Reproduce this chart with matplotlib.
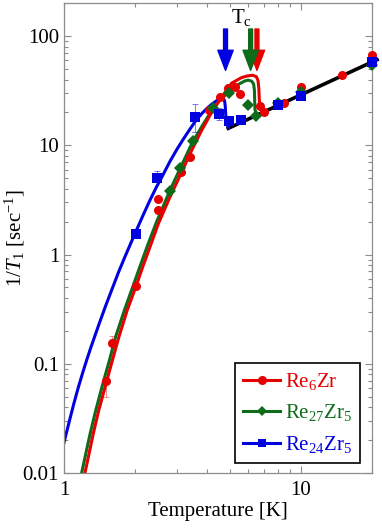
import matplotlib
matplotlib.use("Agg")
from matplotlib import pyplot as plt
from matplotlib.lines import Line2D
from matplotlib.ticker import NullFormatter

plt.rcParams['font.family'] = ['Liberation Serif', 'DejaVu Serif']
plt.rcParams['mathtext.fontset'] = 'custom'
plt.rcParams['mathtext.rm'] = 'Liberation Serif'
plt.rcParams['mathtext.it'] = 'Liberation Serif:italic'

red_T = [1.50, 1.60, 2.01, 2.50, 2.50, 3.12, 3.40, 4.09, 4.57, 4.94, 5.30, 5.56, 6.71, 6.98, 8.5, 10.0, 14.9, 20.0]
red_R = [0.070, 0.154, 0.51, 2.55, 3.2, 5.66, 7.85, 21.0, 27.5, 33.5, 34.0, 29.3, 22.8, 20.0, 24.2, 34.0, 43.7, 67.0]
red_err_lo = [0.020, 0.0, 0, 0, 0, 0, 0, 0, 0, 0, 0, 0, 0, 0, 0, 0, 0, 0]
red_err_hi = [0.0, 0.026, 0, 0, 0, 0, 0, 0, 0, 0, 0, 0, 0, 0, 0, 0, 0, 0]

green_T = [2.80, 3.09, 3.49, 4.27, 4.98, 5.99, 6.46, 8.0, 10.0, 20.0]
green_R = [3.84, 6.24, 10.9, 21.8, 30.3, 23.2, 18.7, 24.5, 31.0, 54.0]

blue_T = [2.01, 2.46, 3.57, 4.50, 4.97, 5.60, 8.0, 10.0, 20.0]
blue_R = [1.55, 5.0, 18.1, 19.5, 16.7, 17.2, 23.4, 28.0, 57.5]
blue_err_lo = [0.1, 0.3, 4.9, 2.5, 0, 0, 0, 0, 0]
blue_err_hi = [0.1, 0.8, 5.6, 2.5, 0, 0, 0, 0, 0]

# fitted curves
red_fit_T = [1.226, 1.28, 1.33, 1.4, 1.5, 1.6, 1.7, 1.85, 2.02, 2.15, 2.31, 2.5, 2.8, 3.12, 3.4,
             3.8, 4.2, 4.6, 5.1, 5.6, 5.9, 6.26, 6.5, 6.6, 6.65, 6.68, 6.71, 6.8, 6.9]
red_fit_R = [0.010, 0.0155, 0.023, 0.037, 0.064, 0.107, 0.172, 0.31, 0.52, 0.77, 1.18, 1.9, 3.35,
             5.5, 8.3, 13.5, 20.0, 27.0, 37.0, 41.5, 43.0, 43.8, 42.4, 39.0, 33.0, 26.5, 23.0,
             21.0, 20.2]

green_fit_T = [1.187, 1.24, 1.29, 1.36, 1.46, 1.56, 1.65, 1.8, 1.96, 2.09, 2.25, 2.45, 2.8, 3.09,
               3.49, 3.9, 4.27, 4.6, 4.98, 5.5, 5.8, 6.0, 6.2, 6.32, 6.37, 6.39, 6.41, 6.5]
green_fit_R = [0.010, 0.0155, 0.023, 0.037, 0.066, 0.11, 0.175, 0.31, 0.52, 0.77, 1.2, 1.95, 3.85,
               6.1, 10.7, 16.0, 21.8, 26.5, 31.0, 36.5, 38.8, 39.5, 38.7, 36.5, 32.0, 25.0, 21.0,
               19.2]

blue_fit_T = [1.0, 1.05, 1.1, 1.15, 1.2, 1.25, 1.3, 1.4, 1.5, 1.6, 1.7, 1.8, 1.9, 2.0, 2.15, 2.3,
              2.45, 2.6, 2.8, 3.0, 3.2, 3.4, 3.6, 3.8, 4.0, 4.2, 4.4, 4.55, 4.65, 4.72, 4.77,
              4.8, 4.82, 4.86, 4.91, 4.95]
blue_fit_R = [0.019, 0.029, 0.043, 0.061, 0.083, 0.11, 0.142, 0.225, 0.34, 0.49, 0.69, 0.93,
              1.22, 1.58, 2.25, 3.1, 4.1, 5.2, 7.1, 9.2, 11.5, 14.0, 16.8, 19.3, 21.6, 23.7,
              25.5, 26.5, 27.1, 26.8, 25.3, 22.5, 19.0, 16.3, 15.0, 14.5]

# Korringa line (normal state)
korr_T = [4.94, 21.0]
korr_R = [14.3, 60.8]

tc_values = [4.81, 6.53, 6.14]   # blue, red, green

c_red = '#e60000'
c_green = '#0d6b1a'
c_blue = '#0000e0'

fig = plt.figure(figsize=(3.82, 5.30), dpi=100)
ax = fig.add_axes([0.1675, 0.1075, 0.8065, 0.8865])

ax.plot(korr_T, korr_R, color='black', lw=2.6, clip_on=False, zorder=2)
ax.plot(blue_fit_T, blue_fit_R, color=c_blue, lw=2.2, zorder=2)
ax.plot(green_fit_T, green_fit_R, color=c_green, lw=2.2, zorder=2)
ax.plot(red_fit_T, red_fit_R, color=c_red, lw=2.2, zorder=2)

ax.errorbar(red_T, red_R, yerr=[red_err_lo, red_err_hi], fmt='none', ecolor=c_red,
            elinewidth=0.6, capsize=2, capthick=0.6, alpha=0.5, zorder=3)
ax.errorbar(blue_T, blue_R, yerr=[blue_err_lo, blue_err_hi], fmt='none', ecolor=c_blue,
            elinewidth=0.6, capsize=2, capthick=0.6, alpha=0.6, zorder=3)

ax.plot(red_T, red_R, 'o', color=c_red, ms=6.5, mew=0, clip_on=False, zorder=4)
ax.plot(green_T, green_R, 'D', color=c_green, ms=6, mew=0, clip_on=False, zorder=5)
ax.plot(blue_T, blue_R, 's', color=c_blue, ms=6.5, mew=0, clip_on=False, zorder=6)

# Tc arrows
for tc, col in zip(tc_values, [c_blue, c_red, c_green]):
    ax.annotate('', xy=(tc, 48.5), xytext=(tc, 116),
                arrowprops=dict(facecolor=col, edgecolor=col, width=2.8,
                                headwidth=11, headlength=14.5, shrink=0))
ax.text(0.541, 0.958, 'T$_{\\rm c}$', transform=ax.transAxes, fontsize=15)

ax.set_xscale('log')
ax.set_yscale('log')
ax.set_xlim(1, 20)
ax.set_ylim(0.01, 200)
ax.set_xticks([1, 10], labels=['1', '10'])
ax.xaxis.set_minor_formatter(NullFormatter())
ax.set_yticks([0.01, 0.1, 1, 10, 100], labels=['0.01', '0.1', '1', '10', '100'])
ax.yaxis.set_minor_formatter(NullFormatter())

ax.tick_params(which='both', direction='in', top=True, right=True,
               color='#8c8c8c', labelsize=15)
ax.tick_params(which='major', length=5, width=0.8)
ax.tick_params(which='minor', length=3, width=0.8)
ax.tick_params(axis='x', pad=6)
for sp in ax.spines.values():
    sp.set_color('#8c8c8c')
    sp.set_linewidth(0.9)

ax.set_xlabel('Temperature [K]', fontsize=15, labelpad=1)
ax.set_ylabel('1/$T_1$ [sec$^{-1}$]', fontsize=15)
ax.yaxis.set_label_coords(-0.12, 0.5)

handles = [
    Line2D([], [], color=c_red, marker='o', lw=2.2, ms=6.5, mew=0),
    Line2D([], [], color=c_green, marker='D', lw=2.2, ms=5, mew=0),
    Line2D([], [], color=c_blue, marker='s', lw=2.2, ms=6, mew=0),
]
labels = ['Re$_6$Zr', 'Re$_{27}$Zr$_5$', 'Re$_{24}$Zr$_5$']
leg = ax.legend(handles, labels, loc='lower right', bbox_to_anchor=(0.961, 0.021),
                fontsize=15, labelcolor='linecolor', fancybox=False, framealpha=1,
                edgecolor='black', handlelength=1.8, handletextpad=0.2,
                labelspacing=0.5, borderpad=0.4, borderaxespad=0)
leg.get_frame().set_linewidth(1.2)

plt.savefig('out.png', dpi=100)
